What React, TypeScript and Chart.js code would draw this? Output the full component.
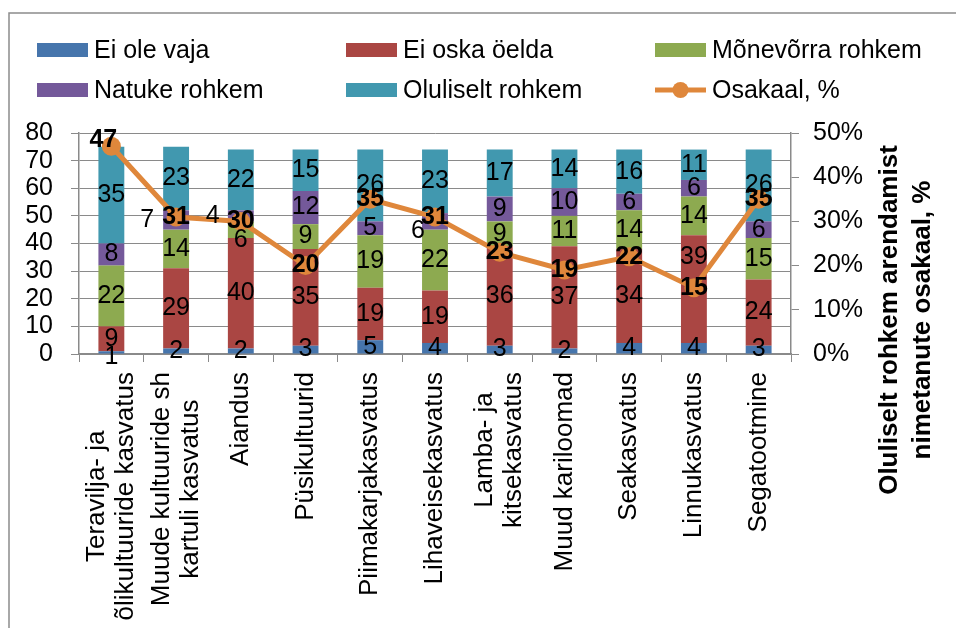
import React, { useEffect, useRef } from 'react';
import { Chart, registerables } from 'chart.js';

Chart.register(...registerables);

// ---------- data ----------
const categories: string[][] = [
  ['Teravilja- ja', 'õlikultuuride kasvatus'],
  ['Muude kultuuride sh', 'kartuli kasvatus'],
  ['Aiandus'],
  ['Püsikultuurid'],
  ['Piimakarjakasvatus'],
  ['Lihaveisekasvatus'],
  ['Lamba- ja', 'kitsekasvatus'],
  ['Muud kariloomad'],
  ['Seakasvatus'],
  ['Linnukasvatus'],
  ['Segatootmine'],
];

const seriesNames = [
  'Ei ole vaja',
  'Ei oska öelda',
  'Mõnevõrra rohkem',
  'Natuke rohkem',
  'Oluliselt rohkem',
  'Osakaal, %',
];

const eiOleVaja = [1, 2, 2, 3, 5, 4, 3, 2, 4, 4, 3];
const eiOskaOelda = [9, 29, 40, 35, 19, 19, 36, 37, 34, 39, 24];
const monevorraRohkem = [22, 14, 6, 9, 19, 22, 9, 11, 14, 14, 15];
const natukeRohkem = [8, 7, 4, 12, 5, 6, 9, 10, 6, 6, 6];
const oluliseltRohkem = [35, 23, 22, 15, 26, 23, 17, 14, 16, 11, 26];
const osakaal = [47, 31, 30, 20, 35, 31, 23, 19, 22, 15, 35];

const leftAxis = { min: 0, max: 80, step: 10 };
const rightAxis = { min: 0, max: 50, step: 10 };
const rightAxisTitle = ['Oluliselt rohkem arendamist', 'nimetanute osakaal, %'];

// ---------- styles ----------
const FONT = '"Liberation Sans", Arial, Helvetica, sans-serif';
const colors = ['#4675AC', '#AA4643', '#8DAA50', '#74599A', '#4198AF', '#DF873B'];
const GRID = '#8a8a8a';

// label nudges (style only): key = datasetIndex-categoryIndex
const labelNudge: Record<string, [number, number]> = {
  '0-0': [0, 5],
  '1-9': [0, -32],
  '2-2': [0, 10],
  '3-1': [-29, 0],
  '3-2': [-28, 0],
  '3-5': [-17, 10],
  '5-0': [-8, -6],
};

const overlayPlugin = {
  id: 'overlay',
  afterDatasetsDraw(chart: any) {
    const ctx = chart.ctx as CanvasRenderingContext2D;
    ctx.save();
    ctx.fillStyle = '#000';
    ctx.textAlign = 'center';
    ctx.textBaseline = 'middle';
    // bar segment labels
    for (let d = 0; d < 5; d++) {
      const meta = chart.getDatasetMeta(d);
      const vals = chart.data.datasets[d].data as number[];
      ctx.font = `25px ${FONT}`;
      meta.data.forEach((el: any, i: number) => {
        const nudge = labelNudge[`${d}-${i}`] || [0, 0];
        const cy = (el.y + el.base) / 2;
        ctx.fillText(String(vals[i]), el.x + nudge[0], cy + nudge[1]);
      });
    }
    // line labels
    const lmeta = chart.getDatasetMeta(5);
    const lvals = chart.data.datasets[5].data as number[];
    ctx.font = `bold 25px ${FONT}`;
    lmeta.data.forEach((el: any, i: number) => {
      const nudge = labelNudge[`5-${i}`] || [0, 0];
      ctx.fillText(String(lvals[i]), el.x + nudge[0], el.y + nudge[1]);
    });
    ctx.restore();
  },
  afterDraw(chart: any) {
    const ctx = chart.ctx as CanvasRenderingContext2D;
    ctx.save();
    // outer frame
    ctx.strokeStyle = '#8c8c8c';
    ctx.lineWidth = 1.5;
    ctx.strokeRect(9, 13, 1200, 900);

    // legend
    const cols = [37, 346, 655];
    const rows = [50, 90];
    ctx.font = `25px ${FONT}`;
    ctx.textBaseline = 'middle';
    ctx.textAlign = 'left';
    seriesNames.forEach((name, k) => {
      const cx = cols[k % 3];
      const cy = rows[Math.floor(k / 3)];
      if (k < 5) {
        ctx.fillStyle = colors[k];
        ctx.fillRect(cx, cy - 7, 51, 14);
      } else {
        ctx.strokeStyle = colors[5];
        ctx.lineWidth = 5;
        ctx.beginPath();
        ctx.moveTo(cx, cy);
        ctx.lineTo(cx + 51, cy);
        ctx.stroke();
        ctx.fillStyle = colors[5];
        ctx.beginPath();
        ctx.arc(cx + 25.5, cy, 8, 0, Math.PI * 2);
        ctx.fill();
      }
      ctx.fillStyle = '#000';
      ctx.fillText(name, cx + 57, cy + 1);
    });

    // x category labels (rotated, centered lines)
    const xs = chart.scales.x;
    ctx.font = `26px ${FONT}`;
    ctx.textAlign = 'center';
    ctx.textBaseline = 'middle';
    ctx.fillStyle = '#000';
    const top = chart.chartArea.bottom + 18;
    const lh = 29;
    categories.forEach((lines, i) => {
      const x = xs.getPixelForValue(i);
      const maxW = Math.max(...lines.map((l) => ctx.measureText(l).width));
      const cy = top + maxW / 2;
      lines.forEach((line, j) => {
        const dx = (j - (lines.length - 1) / 2) * lh;
        ctx.save();
        ctx.translate(x + dx, cy);
        ctx.rotate(-Math.PI / 2);
        ctx.fillText(line, 0, 0);
        ctx.restore();
      });
    });

    // right axis title
    ctx.font = `bold 26px ${FONT}`;
    const tcy = 320;
    rightAxisTitle.forEach((line, j) => {
      const tx = 890 + j * 33;
      ctx.save();
      ctx.translate(tx, tcy);
      ctx.rotate(-Math.PI / 2);
      ctx.fillText(line, 0, 0);
      ctx.restore();
    });
    ctx.restore();
  },
};

const bgPlugin = {
  id: 'bg',
  beforeDraw(chart: any) {
    const ctx = chart.ctx as CanvasRenderingContext2D;
    ctx.save();
    ctx.fillStyle = '#fff';
    ctx.fillRect(0, 0, chart.width, chart.height);
    ctx.restore();
  },
};

export default function App() {
  const ref = useRef<HTMLCanvasElement | null>(null);
  useEffect(() => {
    if (!ref.current) return;
    const barSeries = [eiOleVaja, eiOskaOelda, monevorraRohkem, natukeRohkem, oluliseltRohkem];
    const chart = new Chart(ref.current, {
      type: 'bar',
      data: {
        labels: categories.map((c) => c.join(' ')),
        datasets: [
          ...barSeries.map((vals, k) => ({
            type: 'bar' as const,
            label: seriesNames[k],
            data: vals,
            backgroundColor: colors[k],
            borderWidth: 0,
            stack: 's',
            yAxisID: 'y',
            categoryPercentage: 1,
            barPercentage: 0.4,
            order: 1,
          })),
          {
            type: 'line' as const,
            label: seriesNames[5],
            data: osakaal,
            borderColor: colors[5],
            backgroundColor: colors[5],
            borderWidth: 5,
            pointRadius: 9.5,
            pointBorderWidth: 0,
            pointBackgroundColor: colors[5],
            yAxisID: 'y1',
            order: 0,
            tension: 0,
          } as any,
        ],
      },
      options: {
        responsive: false,
        animation: false,
        devicePixelRatio: 1,
        layout: { padding: { top: 133, left: 0, right: 0, bottom: 0 } },
        plugins: {
          legend: { display: false },
          tooltip: { enabled: false },
        },
        scales: {
          x: {
            stacked: true,
            offset: true,
            grid: {
              offset: true,
              drawOnChartArea: false,
              drawTicks: true,
              tickLength: 8,
              color: GRID,
            },
            border: { color: GRID, width: 1.5 },
            ticks: { display: false },
            afterFit: (s: any) => {
              s.height = 274;
            },
          },
          y: {
            stacked: true,
            position: 'left',
            min: leftAxis.min,
            max: leftAxis.max,
            ticks: {
              stepSize: leftAxis.step,
              autoSkip: false,
              color: '#000',
              font: { family: FONT, size: 25 },
              padding: 18,
            },
            grid: { color: GRID, tickLength: 8, lineWidth: 1 },
            border: { color: GRID, width: 1.5 },
            afterFit: (s: any) => {
              s.width = 79;
            },
          },
          y1: {
            position: 'right',
            min: rightAxis.min,
            max: rightAxis.max,
            ticks: {
              stepSize: rightAxis.step,
              autoSkip: false,
              color: '#000',
              font: { family: FONT, size: 25 },
              padding: 14,
              callback: (v: any) => `${v}%`,
            },
            grid: { drawOnChartArea: false, color: GRID, tickLength: 8 },
            border: { color: GRID, width: 1.5 },
            afterFit: (s: any) => {
              s.width = 165;
            },
          },
        },
      },
      plugins: [bgPlugin, overlayPlugin],
    });
    return () => chart.destroy();
  }, []);

  return (
    <div style={{ position: 'fixed', left: 0, top: 0, width: 956, height: 628, background: '#fff' }}>
      <canvas ref={ref} width={956} height={628} style={{ display: 'block', width: 956, height: 628 }} />
    </div>
  );
}
